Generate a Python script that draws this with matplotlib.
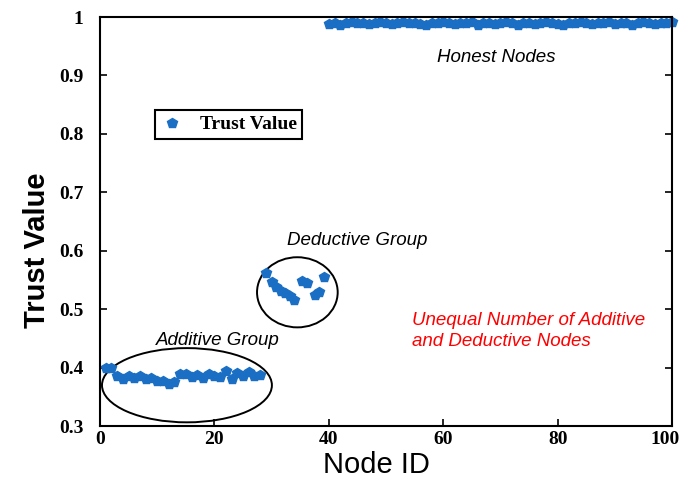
import numpy as np
import matplotlib.pyplot as plt
from matplotlib.patches import Ellipse
from matplotlib.transforms import ScaledTranslation

# Node IDs and trust values
additive_ids = list(range(1, 29))
additive_vals = [0.400, 0.399, 0.386, 0.381, 0.385, 0.382, 0.386, 0.380, 0.383, 0.378,
                 0.377, 0.372, 0.375, 0.390, 0.389, 0.384, 0.388, 0.383, 0.390, 0.386,
                 0.384, 0.395, 0.381, 0.391, 0.385, 0.393, 0.386, 0.388]

deductive_ids = [29, 30, 30.8, 31.6, 32.4, 33.2, 34, 35.3, 36.2, 37.5, 38.3, 39.2]
deductive_vals = [0.562, 0.546, 0.538, 0.532, 0.527, 0.522, 0.515, 0.548, 0.545,
                  0.525, 0.530, 0.555]

honest_ids = list(range(40, 101))
honest_vals = [0.988, 0.990, 0.987, 0.990, 0.991, 0.989, 0.990, 0.988, 0.990, 0.991,
               0.989, 0.988, 0.990, 0.991, 0.989, 0.990, 0.988, 0.987, 0.990, 0.989,
               0.991, 0.990, 0.988, 0.989, 0.990, 0.991, 0.987, 0.990, 0.989, 0.988,
               0.990, 0.991, 0.989, 0.987, 0.990, 0.990, 0.988, 0.989, 0.991, 0.990,
               0.988, 0.987, 0.990, 0.989, 0.991, 0.990, 0.988, 0.989, 0.990, 0.991,
               0.988, 0.990, 0.989, 0.987, 0.990, 0.991, 0.989, 0.988, 0.990, 0.989,
               0.991]

x_ticks = [0, 20, 40, 60, 80, 100]
y_ticks = [0.3, 0.4, 0.5, 0.6, 0.7, 0.8, 0.9, 1.0]
y_tick_labels = ["0.3", "0.4", "0.5", "0.6", "0.7", "0.8", "0.9", "1"]

blue = "#1a6fc4"

fig = plt.figure(figsize=(6.83, 4.87), dpi=100)
ax = fig.add_axes([0.1464, 0.125, 0.8376, 0.840])

ids = additive_ids + deductive_ids + honest_ids
vals = additive_vals + deductive_vals + honest_vals
ax.plot(ids, vals, linestyle="none", marker="p", markersize=7.5,
        color=blue, label="Trust Value", clip_on=False)

# circled groups
ax.add_patch(Ellipse((15.2, 0.370), 29.7, 0.127, fill=False, edgecolor="black", lw=1.4))
ax.add_patch(Ellipse((34.5, 0.529), 14.1, 0.120, fill=False, edgecolor="black", lw=1.4))

txt = dict(family="Liberation Sans", style="italic", fontsize=13.5)
ax.text(69.2, 0.930, "Honest Nodes", ha="center", va="center", **txt)
ax.text(44.9, 0.617, "Deductive Group", ha="center", va="center", **txt)
ax.text(20.6, 0.447, "Additive Group", ha="center", va="center", **txt)
ax.text(54.5, 0.481, "Unequal Number of Additive", ha="left", va="center", color="red", **txt)
ax.text(54.5, 0.445, "and Deductive Nodes", ha="left", va="center", color="red", **txt)

ax.set_xlim(0, 100)
ax.set_ylim(0.3, 1.0)
ax.set_xticks(x_ticks)
ax.set_yticks(y_ticks)
ax.set_yticklabels(y_tick_labels)
ax.tick_params(direction="in", top=False, right=True, length=5, width=1.2)
ax.tick_params(axis="y", pad=12)
for lab in ax.get_xticklabels() + ax.get_yticklabels():
    lab.set_family("Liberation Serif")
    lab.set_fontweight("bold")
    lab.set_fontsize(14)
# nudge the last x label so it stays inside the figure
last = ax.get_xticklabels()[-1]
last.set_transform(last.get_transform() + ScaledTranslation(-5 / 72, 0, fig.dpi_scale_trans))
for sp in ax.spines.values():
    sp.set_linewidth(1.5)

ax.set_xlabel("Node ID", family="Liberation Sans", fontsize=21, labelpad=2)
ax.set_ylabel("Trust Value", family="Liberation Sans", fontsize=21,
              fontweight="bold", labelpad=6)
ax.xaxis.label.set_x(0.484)
ax.yaxis.label.set_y(0.43)

leg = ax.legend(loc="upper left", bbox_to_anchor=(0.096, 0.773), borderaxespad=0,
                fancybox=False, edgecolor="black", framealpha=1, handletextpad=0.8,
                prop={"family": "Liberation Serif", "weight": "bold", "size": 14},
                borderpad=0.3, handlelength=1.2)
leg.get_frame().set_linewidth(1.5)

fig.savefig("out.png", dpi=100)
